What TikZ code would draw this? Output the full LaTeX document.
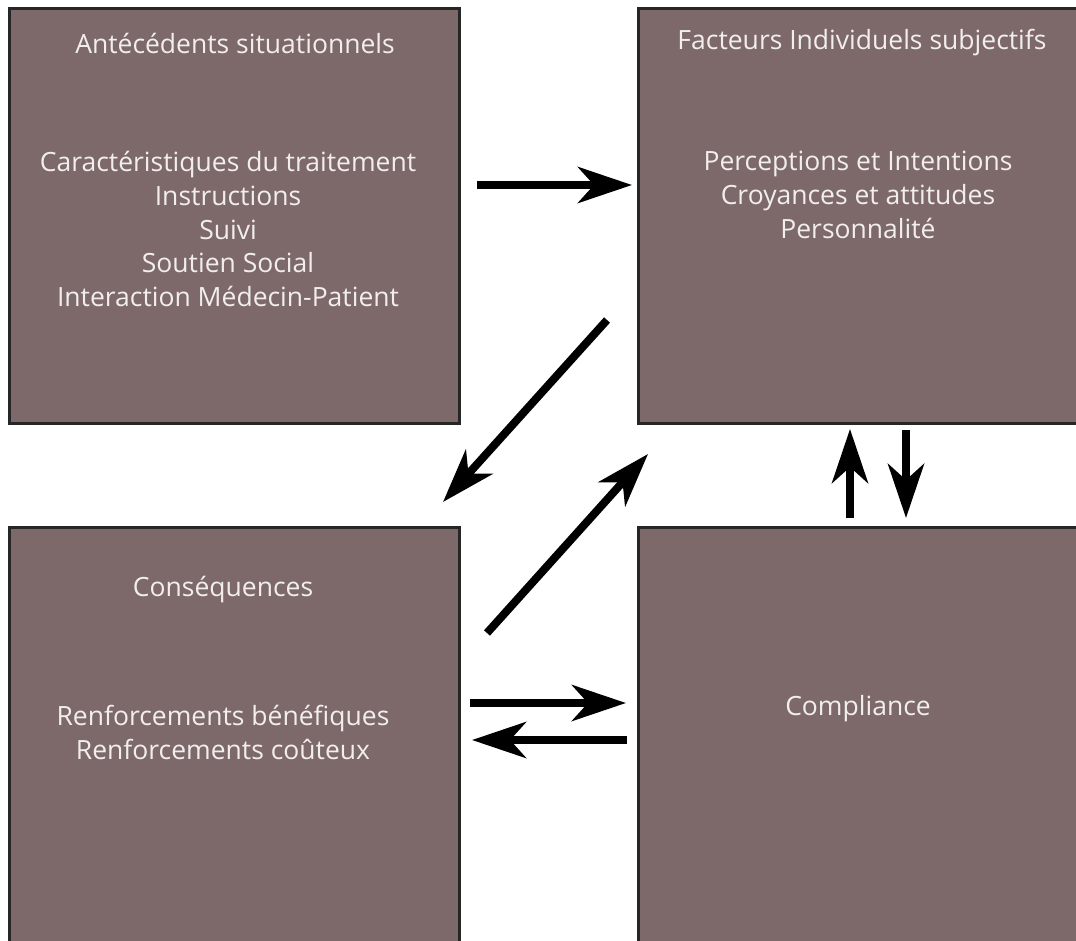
\documentclass[tikz,border=0pt]{standalone}
\usepackage{fontspec}
\setmainfont{Open Sans}
\usetikzlibrary{arrows.meta,positioning}
\definecolor{boxfill}{RGB}{125,105,106}
\definecolor{boxtext}{RGB}{242,238,238}
\tikzstyle{arrow} = [line width=8pt, -{Stealth[length=54pt,width=36pt,inset=16pt]}]
\tikzstyle{box} = [draw=black!85, line width=3pt, fill=boxfill, rectangle, inner sep=0pt]
\tikzstyle{txt} = [text=boxtext, font=\fontsize{26.5}{33.7}\selectfont, align=center]

\begin{document}
\begin{tikzpicture}[x=1pt,y=-1pt]
\clip (0,0) rectangle (1076,940);
\fill[white] (0,0) rectangle (1076,940);
% boxes
\node[box, minimum width=450pt, minimum height=415pt] (ante) at (234,215.5) {};
\node[box, minimum width=460pt, minimum height=415pt] (fact) at (868,215.5) {};
\node[box, minimum width=450pt, minimum height=430pt] (cons) at (234,742) {};
\node[box, minimum width=460pt, minimum height=430pt] (comp) at (868,742) {};

% texts
\node[txt] (anteT) at (235,43) {Antécédents situationnels};
\node[txt, anchor=north] (anteL) at (228,148) {Caractéristiques du traitement\\Instructions\\Suivi\\Soutien Social\\Interaction Médecin-Patient};
\node[txt] (factT) at (862,43) {Facteurs Individuels subjectifs};
\node[txt, anchor=north] (factL) at (858,148) {Perceptions et Intentions\\Croyances et attitudes\\Personnalité};
\node[txt] (consT) at (223,590) {Conséquences};
\node[txt, anchor=north] (consL) at (223,702) {Renforcements bénéfiques\\Renforcements coûteux};
\node[txt] (compT) at (858,709) {Compliance};

% arrow ends
\coordinate (a1) at (477,185);  \coordinate (b1) at (632,185);
\coordinate (a2) at (607,320);  \coordinate (b2) at (443,502);
\coordinate (a3) at (487,633);  \coordinate (b3) at (648,454);
\coordinate (a4) at (470,703);  \coordinate (b4) at (626,703);
\coordinate (a5) at (627,740);  \coordinate (b5) at (472,740);
\coordinate (a6) at (850,518);  \coordinate (b6) at (850,429);
\coordinate (a7) at (906,430);  \coordinate (b7) at (906,518);

\foreach \i in {1,...,7}
  \draw[arrow] (a\i) -- (b\i);
\end{tikzpicture}
\end{document}
